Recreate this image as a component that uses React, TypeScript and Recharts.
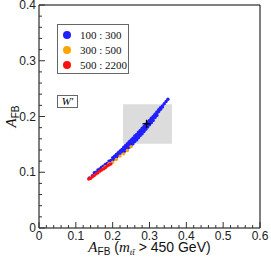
import {
  ScatterChart,
  Scatter,
  XAxis,
  YAxis,
  ReferenceArea,
  Legend,
} from 'recharts'

// tick positions (majors labelled, the rest are minor ticks)
const xTicks = [
  0, 0.02, 0.04, 0.06, 0.08, 0.1, 0.12, 0.14, 0.16, 0.18, 0.2, 0.22, 0.24, 0.26, 0.28, 0.3,
  0.32, 0.34, 0.36, 0.38, 0.4, 0.42, 0.44, 0.46, 0.48, 0.5, 0.52, 0.54, 0.56, 0.58, 0.6,
]
const yTicks = [
  0, 0.02, 0.04, 0.06, 0.08, 0.1, 0.12, 0.14, 0.16, 0.18, 0.2, 0.22, 0.24, 0.26, 0.28, 0.3,
  0.32, 0.34, 0.36, 0.38, 0.4,
]
const xLabels = ['0', '0.1', '0.2', '0.3', '0.4', '0.5', '0.6']
const yLabels = ['0', '0.1', '0.2', '0.3', '0.4']

const seriesNames = ['100 : 300', '300 : 500', '500 : 2200']
const seriesColors = ['#1f1fff', '#ffa500', '#ff1010']

// M_W' = 100..300
const bluePoints: [number, number][] = [
  [0.137, 0.09], [0.145, 0.094], [0.15, 0.099], [0.155, 0.1], [0.16, 0.104], [0.165, 0.106],
  [0.17, 0.109], [0.175, 0.111], [0.18, 0.114], [0.185, 0.116], [0.19, 0.12], [0.195, 0.121],
  [0.2, 0.126], [0.2, 0.121], [0.205, 0.129], [0.205, 0.124], [0.21, 0.132], [0.21, 0.127],
  [0.215, 0.135], [0.215, 0.13], [0.22, 0.138], [0.22, 0.133], [0.225, 0.141], [0.225, 0.137],
  [0.23, 0.145], [0.23, 0.14], [0.23, 0.136], [0.235, 0.148], [0.235, 0.143], [0.235, 0.139],
  [0.24, 0.151], [0.24, 0.146], [0.24, 0.142], [0.245, 0.155], [0.245, 0.15], [0.245, 0.145],
  [0.25, 0.158], [0.25, 0.153], [0.25, 0.148], [0.255, 0.161], [0.255, 0.156], [0.255, 0.151],
  [0.26, 0.165], [0.26, 0.16], [0.26, 0.155], [0.265, 0.168], [0.265, 0.163], [0.265, 0.158],
  [0.27, 0.172], [0.27, 0.167], [0.27, 0.162], [0.275, 0.175], [0.275, 0.17], [0.275, 0.166],
  [0.28, 0.179], [0.28, 0.174], [0.28, 0.169], [0.285, 0.182], [0.285, 0.178], [0.285, 0.173],
  [0.29, 0.186], [0.29, 0.182], [0.29, 0.177], [0.295, 0.19], [0.295, 0.186], [0.295, 0.181],
  [0.3, 0.193], [0.3, 0.189], [0.3, 0.185], [0.305, 0.197], [0.305, 0.193], [0.305, 0.189],
  [0.31, 0.2], [0.31, 0.197], [0.31, 0.193], [0.315, 0.204], [0.315, 0.201], [0.315, 0.198],
  [0.32, 0.208], [0.32, 0.205], [0.32, 0.202], [0.325, 0.212], [0.325, 0.209], [0.33, 0.216],
  [0.33, 0.213], [0.335, 0.219], [0.335, 0.217], [0.34, 0.223], [0.345, 0.227], [0.35, 0.231],
]
const orangePoints: [number, number][] = [
  [0.175, 0.107], [0.18, 0.11], [0.19, 0.115], [0.2, 0.118], [0.21, 0.123], [0.22, 0.129],
  [0.23, 0.133], [0.24, 0.139], [0.25, 0.146],
]
const redPoints: [number, number][] = [
  [0.135, 0.088], [0.14, 0.089], [0.145, 0.092], [0.15, 0.094], [0.155, 0.097], [0.16, 0.099],
  [0.165, 0.102], [0.17, 0.104], [0.175, 0.106], [0.18, 0.108], [0.185, 0.111], [0.19, 0.113],
  [0.195, 0.115],
]
const bestFit: [number, number][] = [[0.292, 0.187]]

// measured band (gray box)
const boxX = [0.228, 0.361]
const boxY = [0.151, 0.222]

const toObj = (pts: [number, number][]) => pts.map(([x, y]) => ({ x, y }))

const isMajor = (v: number) => Math.abs(v * 10 - Math.round(v * 10)) < 1e-6
const fmt = (v: number, labels: string[]) => labels[Math.round(v * 10)]

const tickColor = '#333'
const serif = '"Liberation Serif", "DejaVu Serif", serif'

const BottomTick = ({ x, y, payload }: any) => {
  const major = isMajor(payload.value)
  return (
    <g>
      <line x1={x} x2={x} y1={y} y2={y - (major ? 6 : 3)} stroke={tickColor} />
      {major && (
        <text x={x} y={y + 12} textAnchor="middle" fontSize={12} fill="#222" fontFamily="Liberation Sans">
          {fmt(payload.value, xLabels)}
        </text>
      )}
    </g>
  )
}

const TopTick = ({ x, y, payload }: any) => (
  <line x1={x} x2={x} y1={y} y2={y + (isMajor(payload.value) ? 6 : 3)} stroke={tickColor} />
)

const LeftTick = ({ x, y, payload }: any) => {
  const major = isMajor(payload.value)
  return (
    <g>
      <line x1={x} x2={x + (major ? 6 : 3)} y1={y} y2={y} stroke={tickColor} />
      {major && (
        <text x={x - 3} y={y + 4} textAnchor="end" fontSize={12} fill="#222" fontFamily="Liberation Sans">
          {fmt(payload.value, yLabels)}
        </text>
      )}
    </g>
  )
}

const RightTick = ({ x, y, payload }: any) => (
  <line x1={x} x2={x - (isMajor(payload.value) ? 6 : 3)} y1={y} y2={y} stroke={tickColor} />
)

const dot = (color: string) => (props: any) =>
  <circle cx={props.cx} cy={props.cy} r={1.7} fill={color} />

const crossShape = (props: any) => (
  <g stroke="#000" strokeWidth={1.3}>
    <line x1={props.cx - 4} x2={props.cx + 4} y1={props.cy} y2={props.cy} />
    <line x1={props.cx} x2={props.cx} y1={props.cy - 4} y2={props.cy + 4} />
  </g>
)

const LegendBox = ({ payload }: any) => (
  <div
    style={{
      width: 72,
      height: 50,
      boxSizing: 'border-box',
      border: '1px solid #666',
      background: '#fff',
      paddingTop: 2,
      fontFamily: serif,
      fontSize: 11,
      fontWeight: 'normal',
      color: '#111',
      whiteSpace: 'nowrap',
      textAlign: 'left',
    }}
  >
    {(payload || [])
      .filter((p: any) => p.type !== 'none')
      .map((p: any) => (
        <div key={p.value} style={{ display: 'flex', alignItems: 'center', height: 15 }}>
          <span
            style={{
              display: 'inline-block',
              flex: 'none',
              width: 8,
              height: 8,
              borderRadius: 4,
              background: p.color,
              marginLeft: 5,
              marginRight: 9,
            }}
          />
          <span style={{ fontFamily: serif }}>{p.value}</span>
        </div>
      ))}
  </div>
)

const XTitle = ({ viewBox }: any) => {
  const cx = viewBox.x + viewBox.width / 2
  const y = viewBox.y + 24
  return (
    <text x={cx} y={y} textAnchor="middle" fontSize={14} fontFamily="Liberation Sans" fill="#111">
      <tspan fontFamily={serif} fontStyle="italic" fontSize={15}>A</tspan>
      <tspan fontSize={10} dy={3}>FB</tspan>
      <tspan dy={-3}> (</tspan>
      <tspan fontFamily={serif} fontStyle="italic" fontSize={15}>m</tspan>
      <tspan fontFamily={serif} fontStyle="italic" fontSize={9} dy={3}>t{'t\u0304'}</tspan>
      <tspan dy={-3}> &gt; 450 GeV)</tspan>
    </text>
  )
}

const YTitle = ({ viewBox }: any) => {
  const x = viewBox.x + 16
  const cy = viewBox.y + viewBox.height / 2
  return (
    <text
      x={x}
      y={cy}
      transform={`rotate(-90, ${x}, ${cy})`}
      textAnchor="middle"
      fontSize={14}
      fontFamily="Liberation Sans"
      fill="#111"
    >
      <tspan fontFamily={serif} fontStyle="italic" fontSize={15}>A</tspan>
      <tspan fontSize={10} dy={3}>FB</tspan>
    </text>
  )
}

export default function App() {
  return (
    <div style={{ position: 'absolute', left: 0, top: 0, width: 271, height: 262, background: '#fff' }}>
      <ScatterChart width={271} height={262} margin={{ top: 0, right: 0, bottom: 0, left: 0 }}>
        <XAxis
          xAxisId="b"
          type="number"
          dataKey="x"
          domain={[0, 0.6]}
          ticks={xTicks}
          interval={0}
          height={34}
          tickSize={0}
          tickMargin={0}
          tickLine={false}
          tick={<BottomTick />}
          axisLine={{ stroke: '#000' }}
          label={{ content: <XTitle /> }}
        />
        <XAxis
          xAxisId="t"
          orientation="top"
          type="number"
          dataKey="x"
          domain={[0, 0.6]}
          ticks={xTicks}
          interval={0}
          height={5}
          tickSize={0}
          tickMargin={0}
          tickLine={false}
          tick={<TopTick />}
          axisLine={{ stroke: '#000' }}
        />
        <YAxis
          yAxisId="l"
          type="number"
          dataKey="y"
          domain={[0, 0.4]}
          ticks={yTicks}
          interval={0}
          width={39}
          tickSize={0}
          tickMargin={0}
          tickLine={false}
          tick={<LeftTick />}
          axisLine={{ stroke: '#000' }}
          label={{ content: <YTitle /> }}
        />
        <YAxis
          yAxisId="r"
          orientation="right"
          type="number"
          dataKey="y"
          domain={[0, 0.4]}
          ticks={yTicks}
          interval={0}
          width={11}
          tickSize={0}
          tickMargin={0}
          tickLine={false}
          tick={<RightTick />}
          axisLine={{ stroke: '#000' }}
        />
        <ReferenceArea
          xAxisId="b"
          yAxisId="l"
          x1={boxX[0]}
          x2={boxX[1]}
          y1={boxY[0]}
          y2={boxY[1]}
          fill="#dcdcdc"
          fillOpacity={1}
          stroke="none"
        />
        <Scatter
          xAxisId="b"
          yAxisId="l"
          name={seriesNames[0]}
          data={toObj(bluePoints)}
          fill={seriesColors[0]}
          shape={dot(seriesColors[0])}
          isAnimationActive={false}
        />
        <Scatter
          xAxisId="b"
          yAxisId="l"
          name={seriesNames[1]}
          data={toObj(orangePoints)}
          fill={seriesColors[1]}
          shape={dot(seriesColors[1])}
          isAnimationActive={false}
        />
        <Scatter
          xAxisId="b"
          yAxisId="l"
          name={seriesNames[2]}
          data={toObj(redPoints)}
          fill={seriesColors[2]}
          shape={dot(seriesColors[2])}
          isAnimationActive={false}
        />
        <Scatter
          xAxisId="b"
          yAxisId="l"
          name="best fit"
          legendType="none"
          data={toObj(bestFit)}
          shape={crossShape}
          isAnimationActive={false}
        />
        <Legend
          layout="vertical"
          align="center"
          verticalAlign="middle"
          content={<LegendBox />}
          wrapperStyle={{ left: 57, top: 24, width: 72, height: 50 }}
        />
      </ScatterChart>
      <div
        style={{
          position: 'absolute',
          left: 57,
          top: 95,
          width: 21,
          height: 13,
          boxSizing: 'border-box',
          border: '1px solid #666',
          background: '#fff',
          fontFamily: serif,
          fontStyle: 'italic',
          fontSize: 11,
          lineHeight: '11px',
          textAlign: 'center',
        }}
      >
        W′
      </div>
    </div>
  )
}
